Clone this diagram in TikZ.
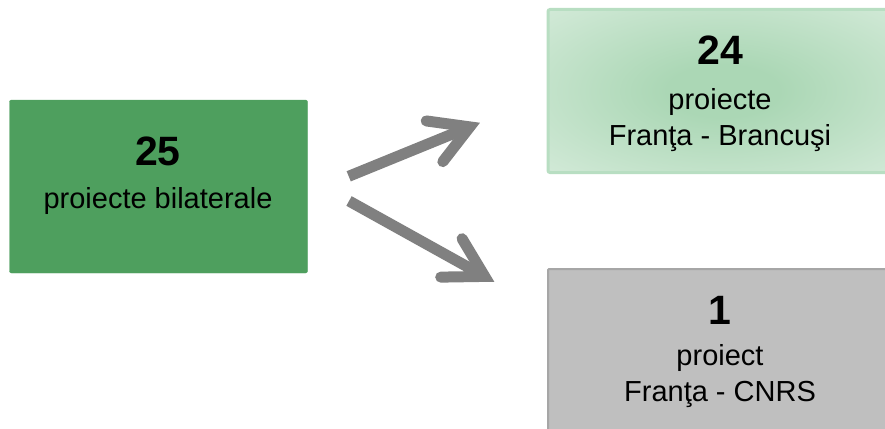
\documentclass[tikz,border=0pt]{standalone}
\usepackage{fontspec}
\setmainfont{Liberation Sans}
\usetikzlibrary{calc}
\definecolor{boxgreen}{HTML}{4E9F5E}
\definecolor{lgborder}{HTML}{B8DEC2}
\definecolor{lgin}{HTML}{ABD7B5}
\definecolor{lgout}{HTML}{E6F3E9}
\definecolor{gfill}{HTML}{BFBFBF}
\definecolor{gborder}{HTML}{A6A6A6}
\definecolor{arrowgray}{HTML}{808080}
\pgfdeclareradialshading{boxglow}{\pgfpoint{0bp}{0bp}}{color(0bp)=(lgin); color(8bp)=(lgin); color(50bp)=(lgout); color(100bp)=(lgout)}
\tikzset{
  numtxt/.style={font=\fontsize{41}{44}\selectfont\bfseries},
  bodytxt/.style={font=\fontsize{29}{36}\selectfont, align=center},
  shaft/.style={draw=arrowgray, line width=11pt, line cap=butt},
  barb/.style={draw=arrowgray, line width=11pt, line cap=round, line join=miter},
}
\begin{document}
\begin{tikzpicture}[x=1pt,y=-1pt]
\useasboundingbox (0,0) rectangle (885,428);
% boxes
\node[draw=boxgreen, fill=boxgreen, rounded corners=2pt, minimum width=298pt, minimum height=173pt, inner sep=0pt] (left) at (158.5,186.5) {};
\node[draw=lgborder, line width=3pt, shading=boxglow, rounded corners=2pt, minimum width=350pt, minimum height=163pt, inner sep=0pt] (top) at (723,91) {};
\node[draw=gborder, line width=2pt, fill=gfill, rounded corners=1pt, minimum width=350pt, minimum height=170pt, inner sep=0pt] (bot) at (723,354) {};
% texts
\node[numtxt] (n25) at (158,151) {25};
\node[bodytxt] (t25) at (158,201) {proiecte bilaterale};
\node[numtxt] (n24) at (720,50) {24};
\node[bodytxt] (t24) at (720,120) {proiecte\\Franţa - Brancuşi};
\node[numtxt] (n1) at (720,310) {1};
\node[bodytxt] (t1) at (720,376) {proiect\\Franţa - CNRS};
% arrows
\coordinate (a1s) at (348.7,176.3);
\coordinate (a1t) at (469.8,126.9);
\coordinate (a2s) at (349,201);
\coordinate (a2t) at (484.7,276.4);
\draw[shaft] (a1s) -- ($(a1t)!4pt!(a1s)$);
\draw[barb] ($(a1t)!44pt!30:(a1s)$) -- (a1t) -- ($(a1t)!44pt!-30:(a1s)$);
\draw[shaft] (a2s) -- ($(a2t)!4pt!(a2s)$);
\draw[barb] ($(a2t)!44pt!30:(a2s)$) -- (a2t) -- ($(a2t)!44pt!-30:(a2s)$);
\end{tikzpicture}
\end{document}
